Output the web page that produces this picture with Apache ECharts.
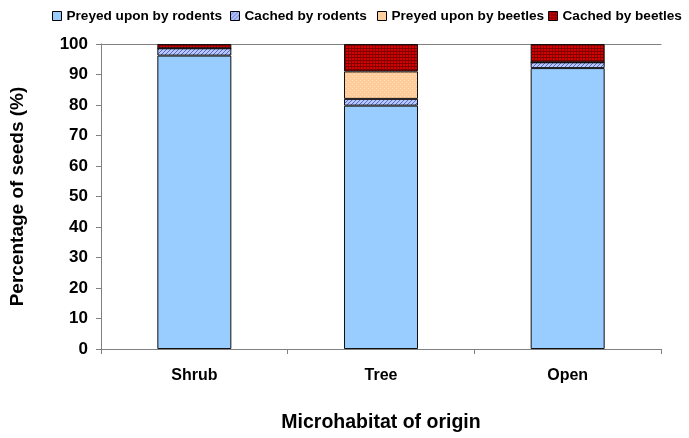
<!DOCTYPE html>
<html><head><meta charset="utf-8">
<script src="https://cdn.jsdelivr.net/npm/echarts@6/dist/echarts.min.js"></script>
<style>html,body{margin:0;padding:0;background:#fff}#c{width:689px;height:438px}</style>
</head><body><div id="c"></div>
<script>
var categories = ['Shrub', 'Tree', 'Open'];
var seriesNames = ['Preyed upon by rodents', 'Cached by rodents', 'Preyed upon by beetles', 'Cached by beetles'];
var preyedRodents = [96.2, 79.8, 92.1];
var cachedRodents = [2.4, 2.2, 1.9];
var preyedBeetles = [0, 9.0, 0];
var cachedBeetles = [1.4, 9.0, 6.0];
var yTicks = [0, 10, 20, 30, 40, 50, 60, 70, 80, 90, 100];

function pat(draw, w, h) {
  var c = document.createElement('canvas'); c.width = w; c.height = h;
  draw(c.getContext('2d'));
  return { image: c, repeat: 'repeat' };
}
var diag = pat(function (g) {
  g.fillStyle = '#b8c8fa'; g.fillRect(0, 0, 4, 4);
  g.fillStyle = '#5566cc';
  for (var i = 0; i < 4; i++) { g.fillRect(i, 3 - i, 1, 1); }
}, 4, 4);
var dots = pat(function (g) {
  g.fillStyle = '#ffcc99'; g.fillRect(0, 0, 4, 4);
  g.fillStyle = '#ffe2c4'; g.fillRect(0, 0, 1, 1); g.fillRect(2, 2, 1, 1);
}, 4, 4);
var grid = pat(function (g) {
  g.fillStyle = '#d80000'; g.fillRect(0, 0, 3, 3);
  g.fillStyle = '#800000'; g.fillRect(0, 0, 3, 1); g.fillRect(0, 0, 1, 3);
}, 3, 3);

var fills = ['#99ccff', diag, dots, grid];
var values = [preyedRodents, cachedRodents, preyedBeetles, cachedBeetles];
var font = "'Liberation Sans', Arial, sans-serif";

var legendLefts = [47, 225, 372, 543];
var legends = seriesNames.map(function (n, i) {
  return {
    data: [n], left: legendLefts[i], top: 4, itemWidth: 9, itemHeight: 9, itemGap: 6,
    icon: 'rect',
    textStyle: { fontFamily: font, fontWeight: 'bold', fontSize: 13.6, color: '#000' },
    itemStyle: { borderColor: '#000', borderWidth: 1 }
  };
});

var chart = echarts.init(document.getElementById('c'), null, { renderer: 'canvas' });
chart.setOption({
  animation: false,
  backgroundColor: '#fff',
  legend: legends,
  grid: { left: 101, right: 28, top: 44, bottom: 88 },
  xAxis: [{
    type: 'category', data: categories,
    axisLine: { lineStyle: { color: '#808080', width: 1 } },
    axisTick: { show: true, length: 5, inside: false, lineStyle: { color: '#808080' } },
    axisLabel: { fontFamily: font, fontWeight: 'bold', fontSize: 16, color: '#000', margin: 19 },
    name: 'Microhabitat of origin', nameLocation: 'middle', nameGap: 64,
    nameTextStyle: { fontFamily: font, fontWeight: 'bold', fontSize: 19.5, color: '#000' }
  }, {
    type: 'category', data: categories, position: 'top',
    axisLine: { show: true, lineStyle: { color: '#808080', width: 1 } },
    axisTick: { show: false }, axisLabel: { show: false }
  }],
  yAxis: {
    type: 'value', min: 0, max: 100, interval: 10,
    axisLine: { show: true, lineStyle: { color: '#808080', width: 1 } },
    axisTick: { show: true, length: 5, lineStyle: { color: '#808080' } },
    splitLine: { show: false },
    axisLabel: { fontFamily: font, fontWeight: 'bold', fontSize: 17, color: '#000', margin: 13,
      formatter: function (v) { return yTicks.indexOf(v) >= 0 ? String(v) : ''; } },
    name: 'Percentage of seeds (%)', nameLocation: 'middle', nameGap: 74,
    nameTextStyle: { fontFamily: font, fontWeight: 'bold', fontSize: 19, color: '#000' }
  },
  series: seriesNames.map(function (n, i) {
    return {
      name: n, type: 'bar', stack: 'all', barWidth: 74,
      data: values[i],
      itemStyle: { color: fills[i], borderColor: '#111', borderWidth: 1 }
    };
  })
});
</script></body></html>
